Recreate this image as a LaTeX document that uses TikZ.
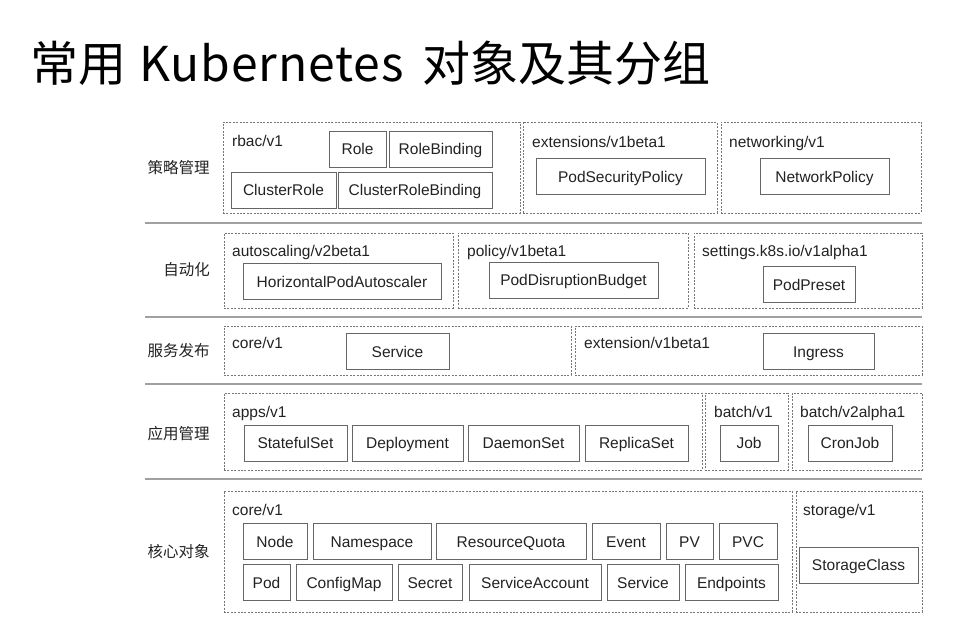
\documentclass[tikz,border=0pt]{standalone}
\usepackage{fontspec}
\setmainfont{Liberation Sans}
\newfontfamily\cjk{Noto Sans CJK SC}
\definecolor{boxline}{HTML}{666666}
\definecolor{grpline}{HTML}{777777}
\definecolor{sepline}{HTML}{A0A0A0}
\definecolor{txt}{HTML}{222222}

\begin{document}
\begin{tikzpicture}[
                        x=1pt, y=-1pt,
                        obj/.style={rectangle, draw=boxline, line width=0.9pt, minimum height=36pt, inner sep=0pt, text height=11.2pt, text depth=0pt, text=txt, font=\fontsize{15.5}{18}\selectfont},
                        grp/.style={rectangle, draw=grpline, dash pattern=on 2pt off 1.4pt, line width=0.8pt, inner sep=0pt},
                        ver/.style={anchor=base west, inner sep=0pt, text=txt, font=\fontsize{15.5}{18}\selectfont},
                        cat/.style={inner sep=0pt, text=txt, font=\cjk\fontsize{15.5}{18}\selectfont},
                        sep/.style={draw=sepline, line width=2pt}
                    ]
                    \useasboundingbox (0,0) rectangle (955,634);

                    % Title
                    \node [anchor=west, inner sep=0pt, font=\cjk\fontsize{48}{54}\selectfont] (title) at (30,63) {常用\hspace{13pt}{\addfontfeature{LetterSpace=2}Kubernetes}\hspace{19pt}对象及其分组};

                    % Separators
                    \coordinate (s1l) at (145,223); \coordinate (s1r) at (922,223);
                    \coordinate (s2l) at (145,317); \coordinate (s2r) at (922,317);
                    \coordinate (s3l) at (145,384); \coordinate (s3r) at (922,384);
                    \coordinate (s4l) at (145,479); \coordinate (s4r) at (922,479);
                    \draw [sep] (s1l) -- (s1r);
                    \draw [sep] (s2l) -- (s2r);
                    \draw [sep] (s3l) -- (s3r);
                    \draw [sep] (s4l) -- (s4r);

                    % Policy management
                    \node [cat] (policy) at (178.5,168) {策略管理};
                    \node [grp, minimum width=297pt, minimum height=91pt] (rbac) at (371.5,167.5) {};
                    \node [grp, minimum width=194pt, minimum height=91pt] (extv1b1) at (620,167.5) {};
                    \node [grp, minimum width=200pt, minimum height=91pt] (netv1) at (821,167.5) {};
                    \node [ver] at (232,146) {rbac/v1};
                    \node [ver] at (532,147) {extensions/v1beta1};
                    \node [ver] at (729,147) {networking/v1};
                    \node [obj, minimum width=57pt] (role) at (357.5,149) {Role};
                    \node [obj, minimum width=103pt] (rolebind) at (440.5,149) {RoleBinding};
                    \node [obj, minimum width=105pt] (crole) at (283.5,190) {ClusterRole};
                    \node [obj, minimum width=154pt] (crolebind) at (415,190) {ClusterRoleBinding};
                    \node [obj, minimum width=169pt] (psp) at (620.5,176.5) {PodSecurityPolicy};
                    \node [obj, minimum width=129pt] (netpol) at (824.5,176.5) {NetworkPolicy};

                    % Autoscaling
                    \node [cat] (auto) at (186.5,270) {自动化};
                    \node [grp, minimum width=229pt, minimum height=75pt] (asv2) at (338.5,270.5) {};
                    \node [grp, minimum width=230pt, minimum height=75pt] (polv1b1) at (573,270.5) {};
                    \node [grp, minimum width=228pt, minimum height=75pt] (setv1a1) at (808,270.5) {};
                    \node [ver] at (232,256) {autoscaling/v2beta1};
                    \node [ver] at (467,256) {policy/v1beta1};
                    \node [ver] at (702,256) {settings.k8s.io/v1alpha1};
                    \node [obj, minimum width=198pt] (hpa) at (342,281.5) {HorizontalPodAutoscaler};
                    \node [obj, minimum width=169pt] (pdb) at (573.5,280) {PodDisruptionBudget};
                    \node [obj, minimum width=92pt] (podpreset) at (809,284.5) {PodPreset};

                    % Service publishing
                    \node [cat] (publish) at (178.5,351) {服务发布};
                    \node [grp, minimum width=347pt, minimum height=49pt] (svccore) at (397.5,350.5) {};
                    \node [grp, minimum width=347pt, minimum height=49pt] (ingext) at (748.5,350.5) {};
                    \node [ver] at (232,348.5) {core/v1};
                    \node [ver] at (584,348.5) {extension/v1beta1};
                    \node [obj, minimum width=103pt] (service) at (397.5,351.5) {Service};
                    \node [obj, minimum width=111pt] (ingress) at (818.5,351.5) {Ingress};

                    % Application management
                    \node [cat] (apps) at (178.5,434) {应用管理};
                    \node [grp, minimum width=478pt, minimum height=77pt] (appsv1) at (463,431.5) {};
                    \node [grp, minimum width=83pt, minimum height=77pt] (batchv1) at (746.5,431.5) {};
                    \node [grp, minimum width=130pt, minimum height=77pt] (batchv2a1) at (857,431.5) {};
                    \node [ver] at (232,417) {apps/v1};
                    \node [ver] at (714,417) {batch/v1};
                    \node [ver] at (800,417) {batch/v2alpha1};
                    \node [obj, minimum width=103pt] (sts) at (295.5,443) {StatefulSet};
                    \node [obj, minimum width=111pt] (deploy) at (407.5,443) {Deployment};
                    \node [obj, minimum width=111pt] (ds) at (523.5,443) {DaemonSet};
                    \node [obj, minimum width=103pt] (rs) at (636.5,443) {ReplicaSet};
                    \node [obj, minimum width=58pt] (job) at (749,443) {Job};
                    \node [obj, minimum width=84pt] (cronjob) at (850,443) {CronJob};

                    % Core objects
                    \node [cat] (core) at (178.5,552) {核心对象};
                    \node [grp, minimum width=568pt, minimum height=121pt] (corev1) at (508,551.5) {};
                    \node [grp, minimum width=126pt, minimum height=121pt] (storv1) at (859,551.5) {};
                    \node [ver] at (232,515) {core/v1};
                    \node [ver] at (803,515) {storage/v1};
                    \node [obj, minimum width=64pt] (node) at (275,541.5) {Node};
                    \node [obj, minimum width=118pt] (ns) at (372,541.5) {Namespace};
                    \node [obj, minimum width=150pt] (quota) at (511,541.5) {ResourceQuota};
                    \node [obj, minimum width=68pt] (event) at (626,541.5) {Event};
                    \node [obj, minimum width=47pt] (pv) at (689.5,541.5) {PV};
                    \node [obj, minimum width=58pt] (pvc) at (748,541.5) {PVC};
                    \node [obj, minimum width=47pt] (pod) at (266.5,582.5) {Pod};
                    \node [obj, minimum width=96pt] (cm) at (344,582.5) {ConfigMap};
                    \node [obj, minimum width=64pt] (secret) at (430,582.5) {Secret};
                    \node [obj, minimum width=132pt] (sa) at (535,582.5) {ServiceAccount};
                    \node [obj, minimum width=72pt] (svc) at (643,582.5) {Service};
                    \node [obj, minimum width=93pt] (ep) at (731.5,582.5) {Endpoints};
                    \node [obj, minimum width=119pt] (sc) at (858.5,565) {StorageClass};
                \end{tikzpicture}
\end{document}
